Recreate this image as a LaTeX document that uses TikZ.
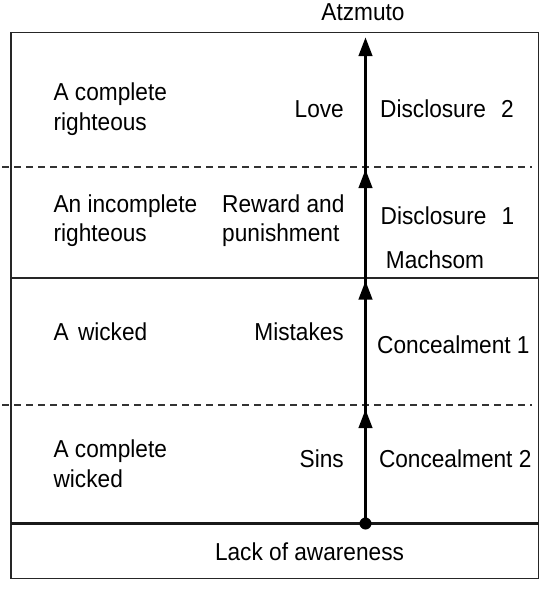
\documentclass[tikz,border=0pt]{standalone}
\usepackage{fontspec}
\setmainfont{Liberation Sans}[FakeStretch=0.925]
\usetikzlibrary{arrows.meta}
\begin{document}
\begin{tikzpicture}[x=1pt,y=-1pt,
  lbl/.style={inner sep=0pt, font=\fontsize{24.5}{28}\selectfont},
  frame/.style={line width=1.9pt, draw=black!85},
  sepdash/.style={line width=1.7pt, draw=black!80, dash pattern=on 7pt off 5pt},
  shaft/.style={line width=3.8pt, draw=black},
  uparrow/.style={line width=3.8pt, draw=black, -{Triangle[length=19pt,width=13pt]}},
]
\useasboundingbox (0,0) rectangle (540,600);
% frame
\draw[frame] (11,32.5) rectangle (538.5,578.5);
% separators
\coordinate (d1l) at (2,166.7);   \coordinate (d1r) at (532,166.7);
\coordinate (s1l) at (11,278);    \coordinate (s1r) at (538.5,278);
\coordinate (d2l) at (2,405);     \coordinate (d2r) at (532,405);
\coordinate (s2l) at (11,523.5);  \coordinate (s2r) at (538.5,523.5);
\draw[sepdash] (d1l) -- (d1r);
\draw[frame] (s1l) -- (s1r);
\draw[sepdash] (d2l) -- (d2r);
\draw[line width=3.6pt, draw=black!90] (s2l) -- (s2r);
% vertical arrow
\coordinate (a0) at (365.5,523.5);
\coordinate (a1) at (365.5,409);
\coordinate (a2) at (365.5,280.5);
\coordinate (a3) at (365.5,169);
\coordinate (a4) at (365.5,37);
\draw[shaft] (a0) -- (365.5,50);
\draw[uparrow] ([yshift=-30pt]a1) -- (a1);
\draw[uparrow] ([yshift=-30pt]a2) -- (a2);
\draw[uparrow] ([yshift=-30pt]a3) -- (a3);
\draw[uparrow] ([yshift=-30pt]a4) -- (a4);
\fill[black] (a0) circle (6pt);
% texts
\node[lbl, anchor=base] (atz) at (363,20) {Atzmuto};
\node[lbl, anchor=base west] (cr1) at (53.4,100) {A complete};
\node[lbl, anchor=base west] (cr2) at (53.4,130) {righteous};
\node[lbl, anchor=base east] (love) at (344,117.3) {Love};
\node[lbl, anchor=base west] (dis2) at (380,117.3) {Disclosure\hspace{9pt} 2};
\node[lbl, anchor=base west] (ir1) at (53.4,212.3) {An incomplete};
\node[lbl, anchor=base west] (ir2) at (53.4,241.7) {righteous};
\node[lbl, anchor=base west] (rp1) at (222,212.3) {Reward and};
\node[lbl, anchor=base west] (rp2) at (222,241.7) {punishment};
\node[lbl, anchor=base west] (dis1) at (380.5,224.3) {Disclosure\hspace{9pt} 1};
\node[lbl, anchor=base west] (mach) at (385.7,268) {Machsom};
\node[lbl, anchor=base west] (aw) at (53.4,340) {A\hspace{3pt} wicked};
\node[lbl, anchor=base east] (mist) at (344,340) {Mistakes};
\node[lbl, anchor=base west] (con1) at (377,353) {Concealment 1};
\node[lbl, anchor=base west] (cw1) at (53.4,457.3) {A complete};
\node[lbl, anchor=base west] (cw2) at (53.4,487.3) {wicked};
\node[lbl, anchor=base east] (sins) at (344,467.3) {Sins};
\node[lbl, anchor=base west] (con2) at (378.8,467.3) {Concealment 2};
\node[lbl, anchor=base] (lack) at (309.5,560) {Lack of awareness};
\end{tikzpicture}
\end{document}
